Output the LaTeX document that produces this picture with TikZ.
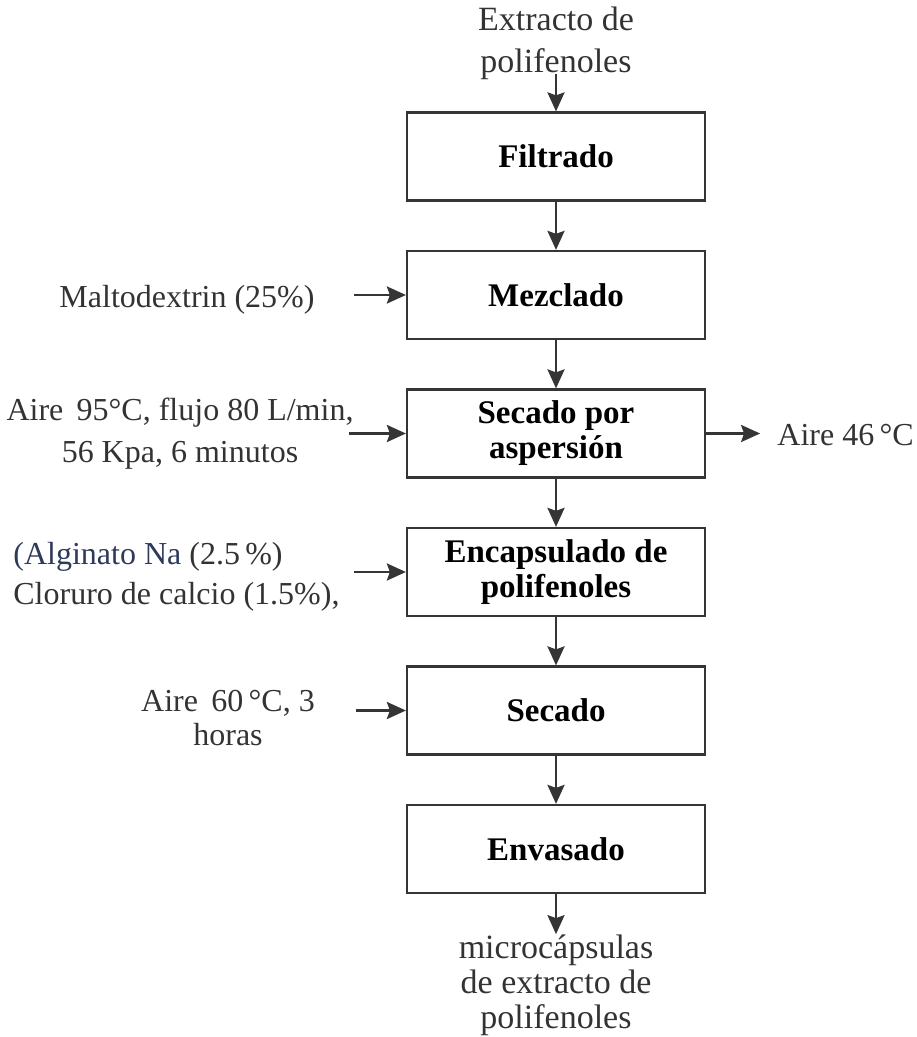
\documentclass[tikz,border=0pt]{standalone}
\usepackage{fontspec}
\setmainfont{Liberation Serif}
\usetikzlibrary{
        arrows.meta,
        positioning
    }
\definecolor{txtgray}{HTML}{333333}
\definecolor{lineg}{HTML}{353535}
\definecolor{algblue}{HTML}{2E3A5C}
\tikzset{>={Stealth[length=9.5pt,width=8.5pt,inset=1.5pt]},node distance=69.25pt}
\tikzset{proc/.style={draw=lineg,line width=1.1pt,minimum width=149pt,minimum height=44pt,inner sep=0pt,align=center,font=\fontsize{16.5}{17.5}\selectfont\bfseries}}
\tikzset{feed/.style={text=txtgray,align=center,inner sep=0pt,font=\fontsize{16}{21}\selectfont}}
\tikzset{flow/.style={->,draw=lineg,line width=1.35pt}}

\begin{document}
\begin{tikzpicture}[x=0.5pt,y=-0.5pt]
                \useasboundingbox (0,0) rectangle (916,1037);
                \node[proc] (filt) at (556,156.5) {Filtrado};
                \node[proc] (mezc) [below of=filt] {Mezclado};
                \node[proc] (seca) [below of=mezc] {Secado por\\aspersión};
                \node[proc] (enca) [below of=seca] {Encapsulado de\\polifenoles};
                \node[proc] (seco) [below of=enca] {Secado};
                \node[proc] (enva) [below of=seco] {Envasado};
                % entradas y salidas
                \node[feed,font=\fontsize{17}{21}\selectfont] (ext) at (556,43) {Extracto de\\polifenoles};
                \node[feed] (malto) at (187,300) {Maltodextrin (25\%)};
                \node[feed] (aire1) at (180,434) {Aire\, 95°C, flujo 80 L/min,\\56 Kpa, 6 minutos};
                \node[feed,align=left,anchor=west,font=\fontsize{16}{20}\selectfont] (algi) at (13,577) {{\color{algblue}(Alginato Na} (2.5\,\%)\\Cloruro de calcio (1.5\%),};
                \node[feed,font=\fontsize{16}{17}\selectfont] (aire2) at (228,718) {Aire\, 60\,°C, 3\\horas};
                \node[feed,anchor=west] (aire3) at (777,435) {Aire 46\,°C};
                \node[feed,font=\fontsize{17}{17.5}\selectfont] (prod) at (556,985) {microcápsulas\\de extracto de\\polifenoles};
                \coordinate[left=26pt of mezc.west] (inmalto);
                \coordinate[left=28.5pt of seca.west] (inaire1);
                \coordinate[left=26pt of enca.west] (inalgi);
                \coordinate[left=25pt of seco.west] (inaire2);
                \coordinate[right=27pt of seca.east] (outaire3);
                \path
                    ([yshift=3pt]ext.south) edge[flow] (filt)
                    (filt) edge[flow] (mezc)
                    (mezc) edge[flow] (seca)
                    (seca) edge[flow] (enca)
                    (enca) edge[flow] (seco)
                    (seco) edge[flow] (enva)
                    (enva) edge[flow] (prod.north)
                    (inmalto) edge[flow] (mezc.west)
                    (inaire1) edge[flow] (seca.west)
                    (inalgi) edge[flow] (enca.west)
                    (inaire2) edge[flow] (seco.west)
                    (seca.east) edge[flow] (outaire3);
            \end{tikzpicture}
\end{document}
